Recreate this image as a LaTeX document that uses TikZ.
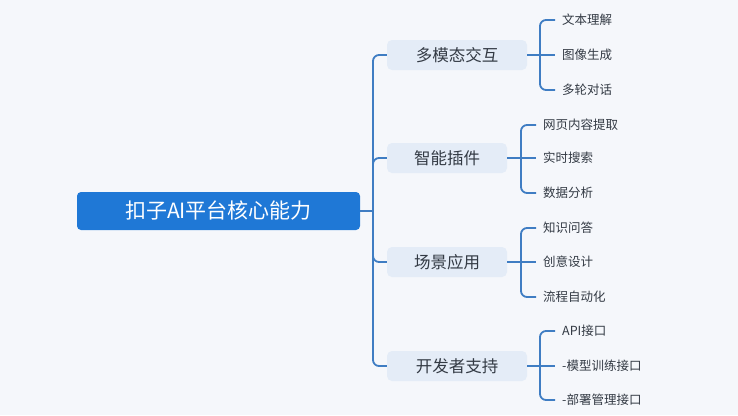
\documentclass[tikz,border=0pt]{standalone}
\usepackage{fontspec}
\setmainfont{Noto Sans CJK SC}
\usetikzlibrary{positioning,calc}
\definecolor{bgcol}{HTML}{F5F7FB}
\definecolor{rootblue}{HTML}{1F78D6}
\definecolor{boxfill}{HTML}{E4ECF7}
\definecolor{linkblue}{HTML}{3F7DC3}
\definecolor{txt}{HTML}{333A44}
\tikzset{
  root/.style={rounded corners=4pt, fill=rootblue, text=white, font=\fontsize{21}{24}\selectfont, minimum width=283pt, minimum height=38pt, inner sep=0pt},
  topic/.style={rounded corners=5pt, fill=boxfill, text=txt, font=\fontsize{16.5}{19}\selectfont, minimum height=30pt, inner sep=0pt},
  leaf/.style={text=txt, font=\fontsize{12.5}{15}\selectfont, anchor=west, inner sep=1pt},
  link/.style={draw=linkblue, line width=1.8pt, rounded corners=6pt}
}
\begin{document}
\begin{tikzpicture}[x=1pt, y=-1pt]
  \fill[bgcol] (0,0) rectangle (738,415);
  \useasboundingbox (0,0) rectangle (738,415);

  \node[root] (core) at (218.5,211) {扣子AI平台核心能力};
  \node[topic, minimum width=140pt] (mm) at (457,55) {多模态交互};
  \node[topic, minimum width=120pt] (plug) at (447,158) {智能插件};
  \node[topic, minimum width=120pt] (scene) at (447,262) {场景应用};
  \node[topic, minimum width=140pt] (dev) at (457,366) {开发者支持};
  \coordinate (j0) at (373,211);

  \draw[link] (core.east) -- (j0);
  \foreach \t in {mm,plug,scene,dev}
    \draw[link] (j0) |- (\t.west);

  % leaves
  \node[leaf] (mm1) at (561,20) {文本理解};
  \node[leaf] (mm2) at (561,55) {图像生成};
  \node[leaf] (mm3) at (561,90) {多轮对话};
  \node[leaf] (pl1) at (542,125) {网页内容提取};
  \node[leaf] (pl2) at (542,158) {实时搜索};
  \node[leaf] (pl3) at (542,193) {数据分析};
  \node[leaf] (sc1) at (542,228) {知识问答};
  \node[leaf] (sc2) at (542,262) {创意设计};
  \node[leaf] (sc3) at (542,297) {流程自动化};
  \node[leaf] (dv1) at (561,331) {API接口};
  \node[leaf] (dv2) at (561,366) {-模型训练接口};
  \node[leaf] (dv3) at (561,400) {-部署管理接口};

  \coordinate (j1) at (540,55);
  \coordinate (j2) at (521,158);
  \coordinate (j3) at (521,262);
  \coordinate (j4) at (540,366);
  \draw[link] (mm.east) -- (j1);
  \draw[link] (plug.east) -- (j2);
  \draw[link] (scene.east) -- (j3);
  \draw[link] (dev.east) -- (j4);
  \foreach \j/\a/\b/\c in {j1/mm1/mm2/mm3, j2/pl1/pl2/pl3, j3/sc1/sc2/sc3, j4/dv1/dv2/dv3} {
    \draw[link] (\j) |- ([xshift=-6pt]\a.west);
    \draw[link] (\j) -- ([xshift=-6pt]\b.west);
    \draw[link] (\j) |- ([xshift=-6pt]\c.west);
  }
\end{tikzpicture}
\end{document}
